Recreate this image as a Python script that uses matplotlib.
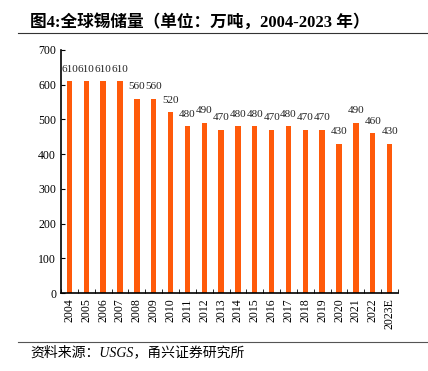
#!/usr/bin/env python3
"""Global tin reserves 2004-2023E bar chart."""

import matplotlib
matplotlib.use("Agg")
import matplotlib.pyplot as plt
import numpy as np

years = ["2004", "2005", "2006", "2007", "2008", "2009", "2010", "2011", "2012",
         "2013", "2014", "2015", "2016", "2017", "2018", "2019", "2020", "2021",
         "2022", "2023E"]
reserves = [610, 610, 610, 610, 560, 560, 520, 480, 490, 470, 480, 480, 470,
            480, 470, 470, 430, 490, 460, 430]
title = "图4:全球锡储量（单位：万吨，2004-2023 年）"
source = "资料来源：USGS，甬兴证券研究所"

FONTS = ["Liberation Serif", "Noto Sans CJK SC", "DejaVu Sans"]
plt.rcParams["font.family"] = FONTS


def main() -> None:
    fig = plt.figure(figsize=(4.28, 3.71), dpi=100)
    ax = fig.add_axes([61 / 428, 1 - 293 / 371, (398 - 61) / 428, (293 - 50) / 371])

    x = np.arange(len(years))
    ax.bar(x, reserves, width=0.32, color="#FF5A0A")
    for xi, v in zip(x, reserves):
        ax.annotate(str(v), (xi, v), xytext=(0, 8.6), textcoords="offset points",
                    ha="center", va="center", fontsize=8, color="#222222")

    ax.set_xlim(-0.5, len(years) - 0.5)
    ax.set_ylim(0, 700)
    ax.set_yticks(range(0, 701, 100))
    ax.set_xticks(x)
    ax.set_xticklabels(years, rotation=90, fontsize=8.5)
    ax.set_xticks(np.arange(-0.5, len(years), 1), minor=True)
    ax.tick_params(axis="x", which="major", length=0, pad=4)
    ax.tick_params(axis="x", which="minor", direction="in", length=3)
    ax.tick_params(axis="y", direction="in", length=3, labelsize=8.5)
    for s in ("top", "right"):
        ax.spines[s].set_visible(False)
    ax.spines["left"].set_linewidth(1.2)
    ax.spines["bottom"].set_linewidth(1.2)

    fig.text(30 / 428, 1 - 22 / 371, title, fontsize=12, fontweight="bold", va="center")
    fig.add_artist(plt.Line2D([18 / 428, 1], [1 - 33 / 371] * 2, color="#333333", lw=0.8))
    fig.add_artist(plt.Line2D([18 / 428, 1], [1 - 342 / 371] * 2, color="#555555", lw=0.8))
    fig.text(30 / 428, 1 - 352 / 371, source, fontsize=10, style="italic", va="center")

    fig.savefig("out.png", dpi=100)
    plt.close(fig)


if __name__ == "__main__":
    main()
